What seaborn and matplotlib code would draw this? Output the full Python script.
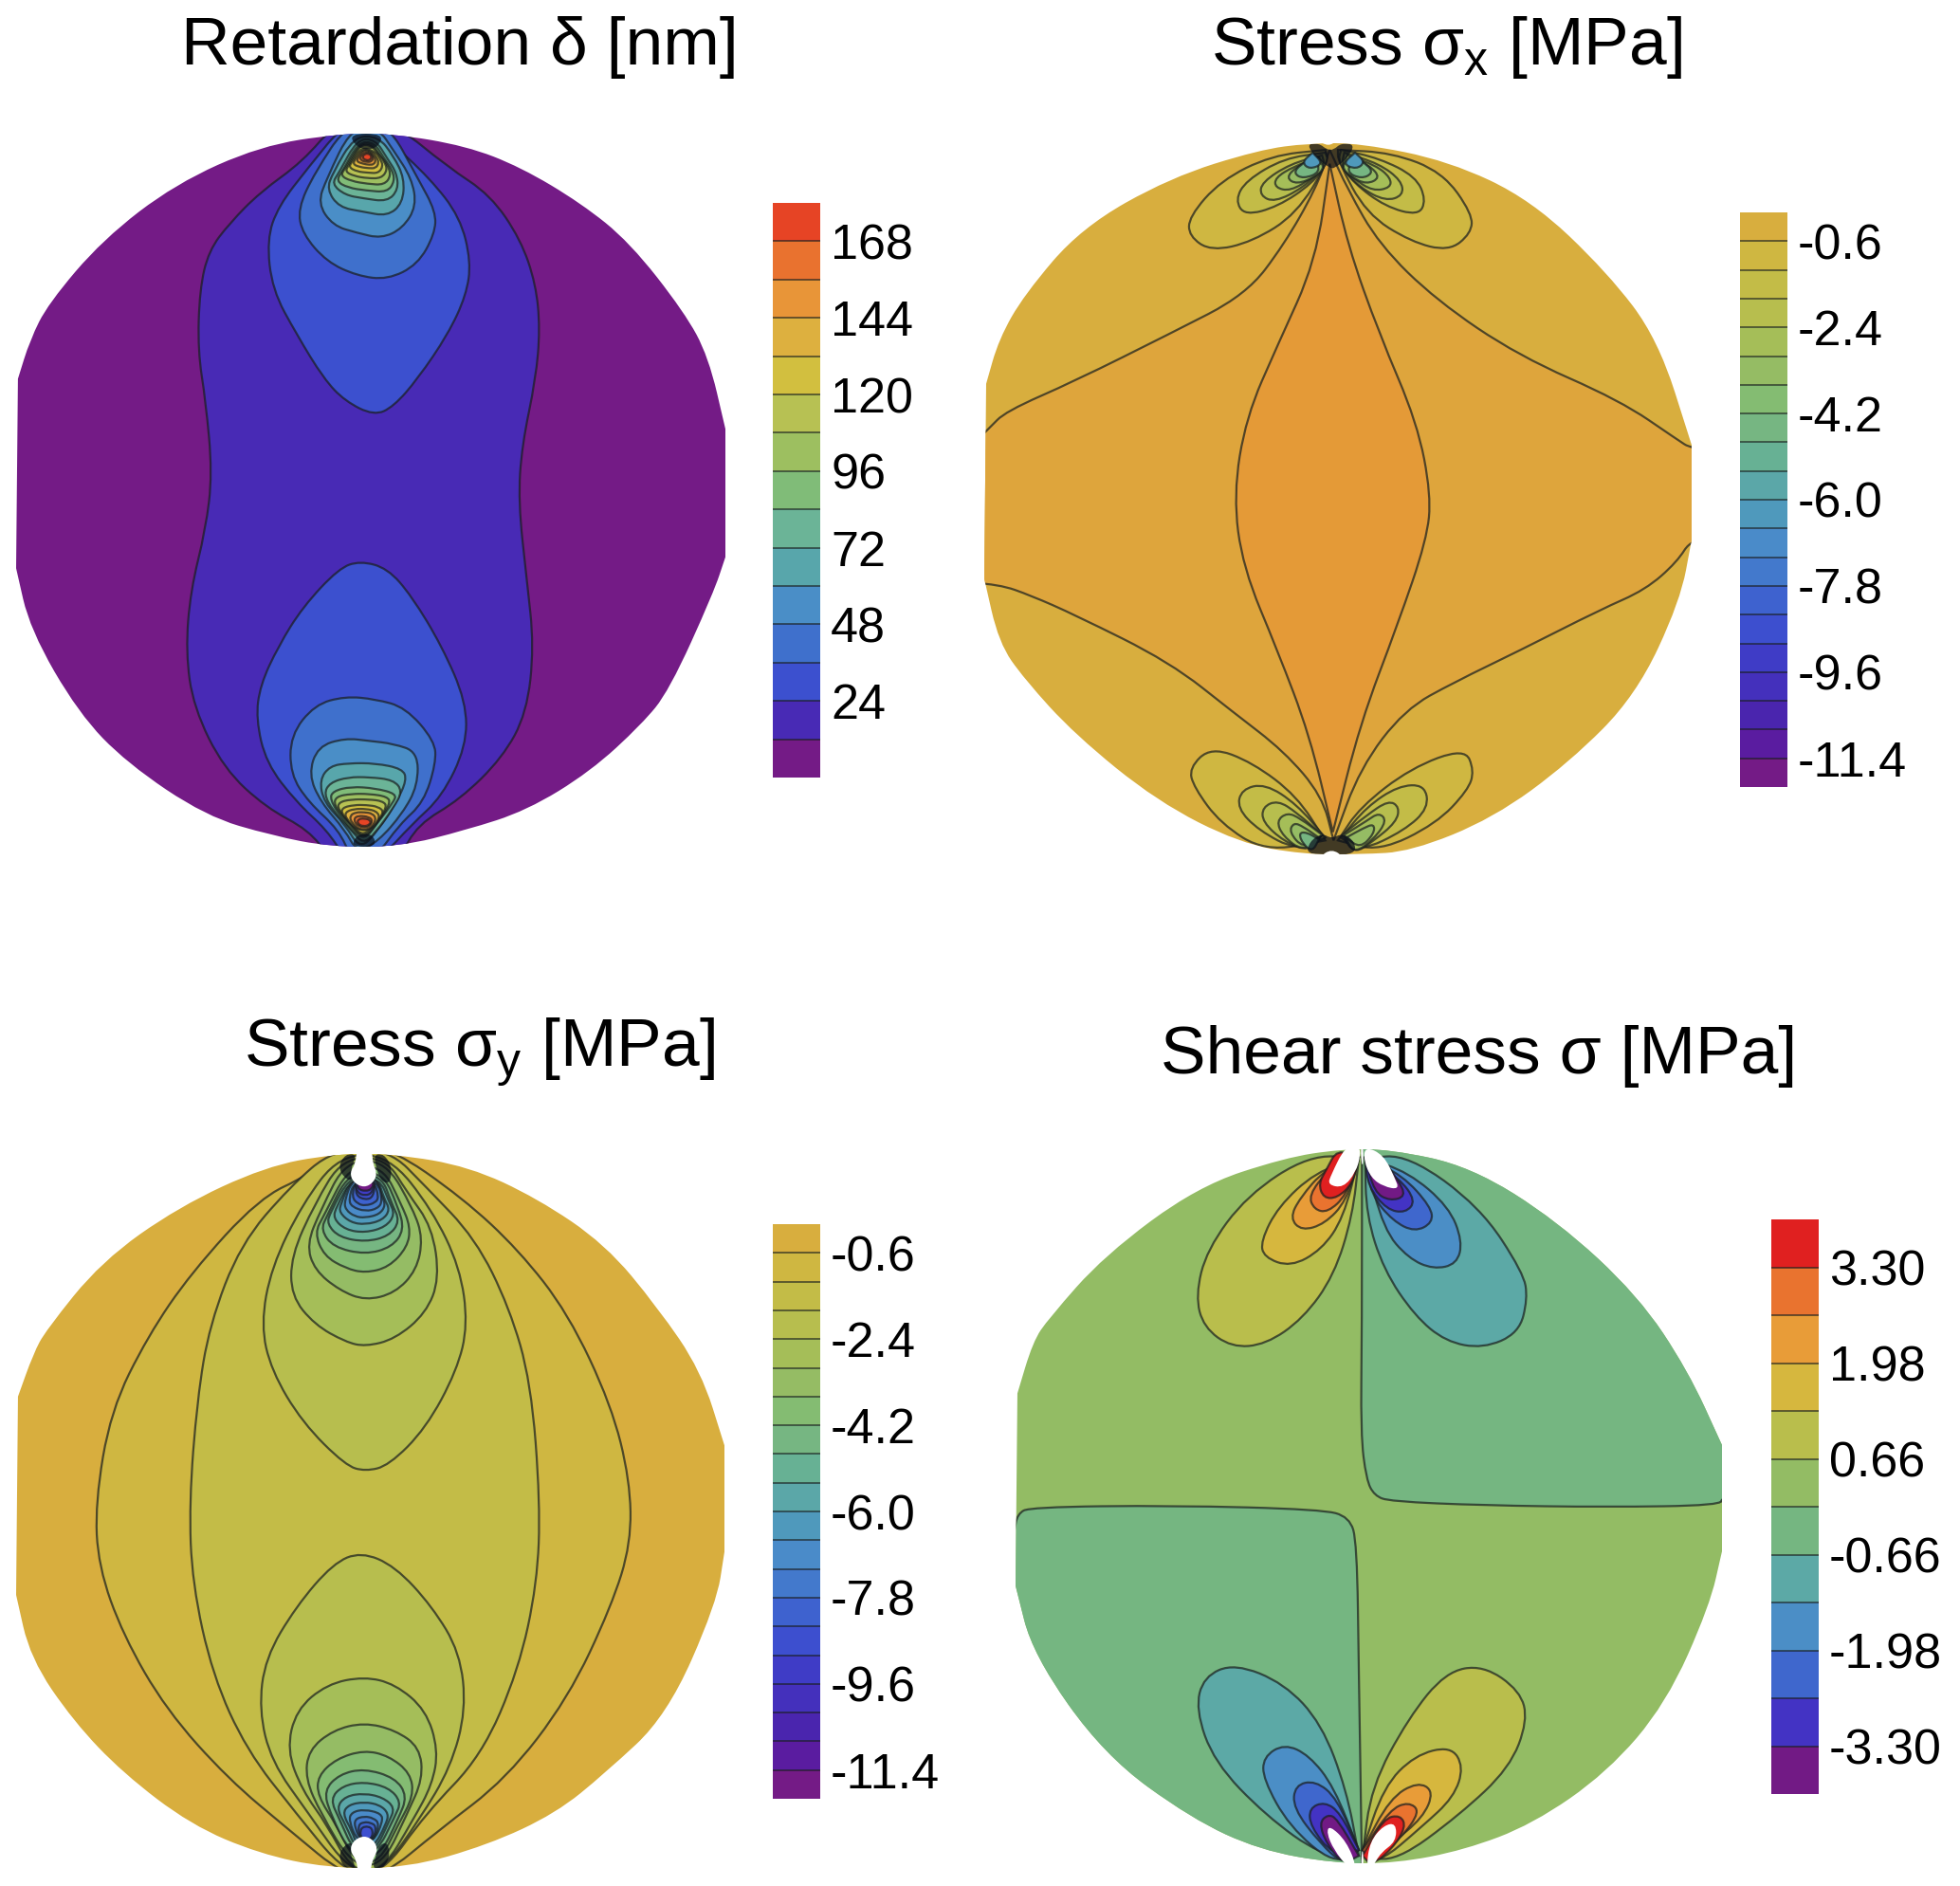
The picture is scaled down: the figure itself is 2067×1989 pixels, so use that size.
import numpy as np
import matplotlib
matplotlib.use("Agg")
import matplotlib.pyplot as plt
import seaborn as sns
from matplotlib.colors import ListedColormap
from matplotlib.patches import PathPatch
from matplotlib.path import Path

# =========================
# COLOUR BAR DATA
# =========================
ret_cells = [174, 162, 150, 138, 126, 114, 102, 90, 78, 66, 54, 42, 30, 18, 6]
ret_tick_rows = [1, 3, 5, 7, 9, 11, 13]
ret_tick_labels = ["168", "144", "120", "96", "72", "48", "24"]
ret_colors = ["#E64425", "#E9722F", "#E89538", "#DDB03F", "#D2BF3F", "#B7C153", "#9DBF60", "#80BC78",
              "#6BB497", "#58A6AB", "#4A8EC7", "#3F70CC", "#3C50CF", "#482AB5", "#741B86"]

stress_cells = [-0.3, -0.9, -1.5, -2.1, -2.7, -3.3, -3.9, -4.5, -5.1, -5.7,
                -6.3, -6.9, -7.5, -8.1, -8.7, -9.3, -9.9, -10.5, -11.1, -11.7]
stress_tick_rows = [1, 4, 7, 10, 13, 16, 19]
stress_tick_labels = ["-0.6", "-2.4", "-4.2", "-6.0", "-7.8", "-9.6", "-11.4"]
stress_colors = ["#D8AE3E", "#CFB741", "#C3BC47", "#B7BE4E", "#A5BE58", "#95BC64", "#84BC72", "#76B682",
                 "#67B194", "#5BA7A8", "#4F99BC", "#4A8BC9", "#4379CC", "#3E62CF", "#3D4FCF", "#3F3CC6",
                 "#4430BC", "#4A25AE", "#5A1CA0", "#741B86"]

shear_cells = [3.63, 2.97, 2.31, 1.65, 0.99, 0.33, -0.33, -0.99, -1.65, -2.31, -2.97, -3.63]
shear_tick_rows = [1, 3, 5, 7, 9, 11]
shear_tick_labels = ["3.30", "1.98", "0.66", "-0.66", "-1.98", "-3.30"]
shear_colors = ["#E02020", "#E9732F", "#E89C38", "#D6B73E", "#B9BE4C", "#93BC64",
                "#75B681", "#5CA9A6", "#4B8EC6", "#3F67CD", "#4333C4", "#721A85"]

sx_inner_colors = ["#DEA53C", "#E49A37"]

# =========================
# DISC OUTLINES
# =========================
ret_disc = [(27,1020),(27,1020),(30,680),(30,680),(50,610),(80,545),(170,430),(290,330),(430,262),(560,240),(650,240),(770,262),
            (860,300),(960,365),(1040,435),(1130,560),(1170,640),(1198,770),(1198,770),(1198,1000),(1198,1000),(1178,1065),(1105,1240),
            (1060,1300),(975,1385),(870,1455),(770,1490),(660,1520),(545,1520),(450,1500),(340,1465),(210,1370),
            (130,1280),(50,1130)]
sx_disc = [(27,1040),(27,1040),(30,690),(30,690),(50,610),(90,530),(180,410),(320,320),(460,270),(540,258),(620,258),(760,290),
           (890,360),(1010,490),(1090,610),(1143,800),(1143,800),(1143,970),(1143,970),(1125,1080),(1055,1250),(950,1370),(830,1470),
           (700,1530),(620,1535),(530,1535),(430,1515),(300,1440),(170,1320),(90,1220),(50,1155)]
sy_disc = [(27,1060),(27,1060),(30,715),(30,715),(55,640),(75,600),(165,480),(290,385),(430,315),(540,293),(640,293),(760,315),
           (870,370),(980,450),(1065,560),(1135,670),(1173,800),(1173,800),(1173,985),(1173,985),(1160,1075),(1080,1270),(980,1370),
           (900,1440),(790,1495),(660,1535),(530,1535),(420,1510),(310,1460),(200,1370),(120,1280),(50,1170)]
sh_disc = [(47,1045),(47,1045),(50,710),(50,710),(75,620),(100,580),(190,470),(340,350),(480,300),(570,285),(650,285),(780,315),
           (920,410),(1050,540),(1130,670),(1185,800),(1185,800),(1185,985),(1185,985),(1165,1080),(1095,1250),(1000,1370),(880,1460),
           (770,1505),(660,1528),(560,1528),(440,1505),(330,1450),(190,1340),(75,1165)]

# =========================
# RETARDATION CONTOURS
# =========================
ret_levels = [13, 12, 12, 11, 11, 10, 10, 9, 9, 8, 8, 7, 7, 6, 6, 5, 5, 4, 4, 3, 3, 2, 2, 1, 1, 0, 0]
ret_contours = [
    [(555,220),(500,290),(430,345),(380,400),(345,450),(330,520),(327,630),(340,720),(351,850),(340,950),(315,1060),
     (307,1170),(320,1270),(370,1380),(440,1450),(510,1490),(545,1540),(660,1540),(690,1480),(760,1435),(830,1360),
     (870,1280),(882,1160),(870,1040),(856,900),(862,800),(885,680),(892,590),(885,510),(860,430),(810,350),(740,300),(650,220)],
    [(570,220),(510,300),(460,370),(441,430),(450,520),(490,600),(535,680),(570,720),(618,746),(650,730),(690,680),
     (740,600),(770,530),(778,470),(760,390),(710,320),(640,250),(630,220)],
    [(595,1007),(560,1020),(500,1090),(460,1160),(430,1230),(423,1290),(440,1370),(490,1440),(540,1490),(570,1540),
     (630,1540),(680,1480),(730,1430),(770,1340),(770,1260),(730,1160),(680,1070),(640,1020)],
    [(575,220),(520,310),(492,375),(500,420),(540,470),(590,495),(640,502),(690,475),(718,420),(720,380),(690,320),(640,220)],
    [(570,1250),(520,1265),(480,1320),(480,1390),(510,1440),(560,1490),(580,1540),(620,1540),(660,1480),(700,1440),
     (720,1370),(718,1330),(670,1270),(620,1255)],
    [(580,230),(540,320),(525,365),(550,405),(590,418),(630,428),(665,410),(688,370),(680,320),(650,270),(625,230)],
    [(570,1325),(525,1340),(510,1390),(530,1440),(570,1490),(590,1530),(625,1510),(665,1460),(690,1410),(690,1350),(650,1335),(610,1330)],
    [(585,245),(550,310),(540,340),(560,372),(600,380),(640,388),(665,365),(668,320),(650,280),(625,245)],
    [(575,1370),(545,1375),(528,1400),(535,1440),(570,1480),(595,1525),(625,1490),(655,1440),(672,1400),(665,1380),(620,1370)],
    [(590,250),(560,310),(548,330),(570,350),(600,356),(640,362),(658,340),(655,310),(640,285),(620,250)],
    [(575,1395),(545,1405),(535,1425),(550,1455),(580,1490),(600,1515),(620,1495),(650,1450),(665,1420),(650,1400),(610,1395)],
    [(592,255),(567,305),(555,325),(575,337),(605,342),(640,345),(652,325),(648,305),(635,285),(618,255)],
    [(580,1412),(550,1420),(545,1435),(565,1470),(600,1512),(625,1475),(650,1440),(655,1425),(620,1415)],
    [(594,258),(572,300),(562,315),(580,325),(607,330),(635,332),(646,315),(640,295),(628,280),(615,258)],
    [(580,1425),(555,1430),(552,1445),(570,1470),(600,1508),(625,1475),(645,1442),(640,1430),(610,1425)],
    [(595,260),(577,295),(570,308),(585,316),(607,320),(630,320),(640,305),(635,290),(624,275),(612,260)],
    [(580,1435),(560,1440),(558,1452),(580,1480),(600,1505),(620,1480),(640,1448),(632,1438),(610,1435)],
    [(596,264),(582,290),(576,300),(590,308),(608,310),(625,311),(633,298),(628,285),(620,272)],
    [(585,1445),(565,1450),(565,1462),(585,1485),(600,1500),(618,1480),(635,1458),(625,1448),(605,1445)],
    [(598,268),(587,285),(583,295),(595,300),(609,302),(621,302),(626,292),(622,282),(615,272)],
    [(585,1452),(570,1458),(572,1470),(590,1490),(612,1490),(628,1468),(622,1456),(605,1452)],
    [(600,270),(592,282),(589,290),(600,294),(610,296),(618,295),(621,287),(616,278),(610,272)],
    [(588,1458),(578,1464),(580,1476),(595,1490),(612,1488),(622,1470),(615,1460),(602,1458)],
    [(602,273),(595,281),(596,288),(606,291),(614,290),(617,283),(612,275)],
    [(590,1464),(584,1472),(592,1484),(608,1486),(616,1474),(610,1466)],
    [(603,276),(598,282),(604,288),(612,287),(614,281),(610,276)],
    [(592,1470),(590,1478),(600,1484),(612,1480),(612,1472),(602,1469)],
]
ret_dark = [[(575,240),(635,240),(622,268),(592,268)], [(580,1520),(622,1520),(616,1497),(590,1497)]]
ret_holes = []

# =========================
# STRESS X CONTOURS
# =========================
sx_levels = [0, 1, 3, 3, 3, 3, 4, 4, 4, 4, 5, 5, 5, 5, 6, 6, 6, 6, 7, 7, 7, 7, 9, 9, 9, 12, 12]
sx_contours = [
    [(-30,840),(35,770),(60,740),(170,685),(320,600),(440,530),(500,440),(550,340),(572,270),(572,270),(600,340),(650,440),
     (740,540),(870,640),(1030,720),(1120,790),(1143,807),(1200,807),(1200,968),(1143,968),(1120,1010),(1070,1060),
     (1000,1095),(870,1170),(770,1225),(690,1275),(620,1380),(578,1510),(578,1510),(560,1430),(500,1350),(420,1280),(320,1190),
     (170,1105),(100,1070),(50,1050),(-30,1045)],
    [(572,295),(550,470),(490,620),(440,750),(420,890),(435,1020),(490,1170),(540,1320),(577,1495),(577,1495),(620,1300),
     (680,1120),(725,970),(732,890),(710,760),(650,600),(600,440)],
    [(565,270),(480,280),(400,325),(350,390),(350,425),(385,452),(450,435),(520,385),(570,290)],
    [(585,270),(670,275),(750,310),(797,385),(795,420),(760,452),(700,435),(630,385),(585,290)],
    [(565,1510),(520,1430),(450,1370),(385,1342),(350,1380),(358,1415),(400,1480),(470,1530)],
    [(585,1510),(620,1450),(700,1380),(785,1344),(800,1385),(790,1420),(740,1480),(650,1530)],
    [(565,275),(500,285),(440,325),(423,360),(438,388),(490,372),(545,330),(570,290)],
    [(590,270),(650,285),(708,318),(724,360),(712,388),(660,372),(610,330),(585,290)],
    [(565,1505),(520,1445),(470,1408),(433,1418),(426,1452),(460,1492),(520,1528)],
    [(590,1505),(630,1450),(680,1412),(722,1410),(728,1452),(690,1492),(620,1530)],
    [(560,280),(510,295),(465,328),(462,352),(485,364),(530,338),(565,300)],
    [(595,275),(650,295),(685,325),(688,352),(660,362),(620,338),(590,300)],
    [(560,1500),(520,1460),(490,1438),(466,1450),(466,1477),(500,1512),(540,1530)],
    [(592,1500),(630,1465),(665,1438),(682,1450),(677,1477),(640,1512),(610,1534)],
    [(555,283),(515,300),(486,320),(486,338),(510,344),(545,320),(565,300)],
    [(600,280),(645,298),(668,320),(668,338),(640,344),(610,322),(590,300)],
    [(560,1500),(525,1470),(505,1460),(488,1475),(498,1502),(530,1530)],
    [(595,1500),(630,1475),(650,1460),(662,1475),(642,1507),(610,1534)],
    [(550,285),(520,300),(503,320),(520,332),(550,318),(565,300)],
    [(605,283),(635,298),(652,320),(630,332),(605,318),(590,300)],
    [(555,1505),(530,1485),(515,1478),(508,1495),(530,1524)],
    [(598,1505),(625,1488),(642,1480),(642,1498),(620,1524)],
    [(548,283),(525,297),(515,312),(530,322),(558,310)],
    [(610,283),(632,297),(640,312),(622,322),(598,310)],
    [(555,1508),(535,1495),(523,1497),(530,1517),(545,1530)],
    [(545,275),(528,292),(540,305),(562,295)],
    [(612,275),(628,292),(614,305),(592,295)],
]
sx_dark = [[(535,260),(555,258),(568,270),(578,270),(590,258),(612,260),(600,285),(580,303),(572,303),(552,285)],
           [(535,1537),(540,1512),(560,1497),(575,1507),(592,1497),(612,1512),(612,1537)]]
sx_holes = [[(552,252),(570,264),(585,252)], [(555,1540),(575,1525),(595,1540)]]

# =========================
# STRESS Y CONTOURS
# =========================
sy_levels = [1, 2, 3, 3, 4, 4, 5, 5, 6, 6, 7, 7, 8, 8, 9, 9, 10, 10, 11, 11, 12, 12, 13, 13, 14, 14, 15, 19]
sy_contours = [
    [(555,280),(500,330),(420,370),(310,500),(240,610),(180,740),(155,900),(160,1010),(200,1130),(270,1260),(370,1380),
     (470,1470),(560,1550),(620,1550),(710,1470),(820,1380),(920,1240),(990,1080),(1022,970),(1020,860),(990,730),
     (920,570),(840,460),(750,370),(630,280)],
    [(540,285),(470,350),(390,450),(340,590),(320,720),(307,900),(312,1040),(345,1200),(400,1330),(480,1440),(560,1545),
     (620,1545),(690,1440),(780,1340),(840,1190),(870,1040),(875,900),(860,690),(825,560),(770,440),(690,350),(630,285)],
    [(550,295),(490,380),(440,490),(423,590),(440,670),(490,760),(560,835),(592,845),(630,835),(690,770),(740,670),
     (758,590),(745,490),(700,390),(630,295)],
    [(585,985),(540,1005),(480,1080),(430,1170),(420,1260),(440,1350),(500,1440),(565,1540),(620,1540),(680,1450),
     (730,1360),(755,1260),(745,1160),(700,1080),(640,1010)],
    [(555,300),(510,380),(472,470),(472,540),(510,590),(560,620),(592,628),(640,615),(690,570),(712,510),(700,420),(660,360),(625,300)],
    [(590,1202),(530,1215),(480,1260),(465,1330),(490,1400),(530,1460),(570,1540),(620,1540),(670,1450),(700,1390),
     (710,1330),(690,1260),(640,1215)],
    [(560,305),(520,390),(497,450),(510,495),(550,530),(592,548),(640,535),(675,495),(685,440),(670,390),(625,305)],
    [(590,1282),(540,1295),(500,1330),(495,1380),(520,1440),(570,1530),(620,1530),(660,1440),(685,1380),(680,1325),(640,1295)],
    [(565,315),(525,400),(510,430),(525,470),(560,492),(592,500),(630,490),(660,455),(665,420),(650,380),(620,315)],
    [(590,1330),(545,1345),(515,1375),(515,1410),(545,1460),(575,1525),(615,1525),(645,1460),(670,1410),(665,1370),(630,1340)],
    [(565,325),(530,400),(520,425),(540,455),(592,468),(635,455),(655,425),(645,385),(620,325)],
    [(590,1362),(550,1372),(525,1400),(535,1440),(570,1515),(615,1515),(645,1450),(660,1410),(640,1378)],
    [(568,330),(535,395),(530,415),(550,438),(592,446),(630,436),(648,410),(635,380),(618,330)],
    [(590,1385),(555,1392),(535,1415),(550,1450),(575,1510),(610,1510),(640,1445),(650,1420),(630,1395)],
    [(570,335),(545,385),(540,405),(560,425),(592,430),(625,420),(640,398),(630,375),(615,335)],
    [(590,1405),(560,1410),(545,1430),(560,1460),(578,1505),(608,1505),(630,1455),(640,1430),(620,1412)],
    [(570,335),(552,380),(550,395),(568,412),(592,416),(620,408),(632,390),(622,370),(612,335)],
    [(590,1420),(565,1425),(555,1440),(570,1470),(580,1500),(605,1500),(625,1460),(630,1440),(615,1425)],
    [(572,335),(558,375),(560,390),(575,402),(592,404),(615,398),(625,382),(618,365),(610,335)],
    [(590,1433),(570,1438),(565,1452),(580,1490),(605,1490),(620,1455),(618,1440)],
    [(574,340),(565,372),(570,385),(592,393),(612,388),(620,375),(612,340)],
    [(590,1445),(575,1450),(575,1465),(585,1488),(605,1488),(615,1458),(605,1448)],
    [(576,340),(570,368),(580,380),(592,383),(608,378),(614,368),(606,340)],
    [(590,1455),(580,1460),(583,1485),(605,1485),(610,1462),(600,1456)],
    [(578,340),(576,365),(592,373),(605,368),(608,340)],
    [(590,1462),(583,1470),(586,1485),(603,1485),(604,1465)],
    [(575,335),(578,360),(592,366),(604,360),(608,335)],
    [(578,340),(580,354),(592,358),(603,354),(606,340)],
]
sy_dark = [[(560,293),(578,293),(568,320),(572,340),(558,335),(548,315)],
           [(606,293),(622,293),(635,315),(632,345),(618,340),(610,320)],
           [(560,1537),(578,1537),(567,1510),(572,1490),(558,1495),(548,1515)],
           [(603,1537),(620,1537),(632,1515),(628,1490),(615,1495),(610,1510)]]
sy_holes = [[(578,285),(576,310),(567,325),(572,342),(590,352),(606,342),(611,325),(604,310),(603,285)],
            [(590,1478),(572,1488),(567,1505),(578,1522),(580,1545),(600,1545),(603,1522),(612,1505),(607,1488)]]

# =========================
# SHEAR CONTOURS
# =========================
sh_levels = [6, 6, 4, 3, 2, 1, 0, 7, 8, 9, 10, 11, 7, 8, 9, 10, 11, 4, 3, 2, 1, 0]
sh_contours = [
    [(605,230),(605,600),(603,780),(612,860),(625,888),(650,898),(800,905),(1000,908),(1183,905),(1185,890),(1250,890),(1250,230)],
    [(45,950),(50,920),(70,908),(300,905),(540,912),(585,925),(597,970),(600,1200),(605,1528),(605,1600),(-50,1600),(-50,950)],
    [(600,300),(520,295),(420,365),(355,460),(337,540),(350,595),(395,630),(450,625),(510,580),(560,505),(590,400)],
    [(600,300),(530,325),(470,385),(442,445),(447,473),(490,490),(540,460),(575,405)],
    [(600,300),(545,320),(505,370),(489,405),(508,427),(545,415),(580,375)],
    [(600,300),(550,322),(519,365),(528,390),(550,395),(580,365)],
    [(600,300),(565,285),(548,320),(535,345),(543,370),(565,370),(590,345)],
    [(610,300),(680,295),(795,385),(865,500),(872,545),(858,605),(800,632),(740,620),(690,575),(640,495),(612,400)],
    [(610,300),(680,325),(745,385),(767,445),(758,485),(720,494),(680,475),(640,425)],
    [(610,300),(670,330),(716,385),(719,413),(690,429),(655,410),(620,365)],
    [(610,300),(665,335),(692,375),(675,396),(645,390),(615,350)],
    [(610,300),(630,290),(663,338),(676,367),(650,375),(625,360)],
    [(600,1515),(580,1400),(540,1285),(480,1215),(400,1180),(350,1203),(337,1260),(367,1352),(450,1445),(540,1515)],
    [(600,1505),(560,1395),(520,1340),(480,1320),(446,1343),(446,1382),(488,1464),(560,1530)],
    [(600,1505),(565,1415),(530,1384),(497,1392),(494,1432),(538,1494),(575,1530)],
    [(600,1505),(570,1440),(545,1421),(520,1432),(522,1464),(558,1514)],
    [(600,1515),(565,1450),(550,1443),(536,1458),(548,1494),(575,1530)],
    [(606,1515),(620,1395),(680,1275),(740,1195),(800,1183),(860,1228),(872,1280),(843,1362),(762,1444),(660,1525)],
    [(606,1505),(640,1395),(690,1340),(748,1324),(769,1360),(753,1413),(702,1464),(630,1530)],
    [(606,1505),(650,1415),(695,1386),(721,1403),(703,1449),(652,1494),(620,1530)],
    [(606,1505),(650,1435),(680,1421),(699,1438),(668,1484),(620,1530)],
    [(606,1515),(640,1450),(667,1444),(676,1465),(653,1504),(620,1532)],
]
sh_dark = []
sh_holes = [[(578,280),(555,330),(550,347),(575,352),(595,325),(603,295),(600,280)],
            [(610,280),(640,295),(658,335),(665,355),(640,350),(620,335),(608,305)],
            [(602,280),(608,280),(606,325)],
            [(553,1462),(580,1490),(597,1535),(582,1535),(560,1505),(548,1475)],
            [(618,1490),(640,1462),(660,1458),(660,1490),(635,1510),(622,1535),(612,1535)],
            [(603,1535),(608,1535),(606,1495)]]

titles = ["Retardation δ [nm]", r"Stress σ$_{\mathregular{x}}$ [MPa]",
          r"Stress σ$_{\mathregular{y}}$ [MPa]", "Shear stress σ [MPa]"]

# =========================
# FIGURE
# =========================
W, H = 2067, 1989
sns.set_theme(style="white")
plt.rcParams["font.family"] = ["Liberation Sans", "DejaVu Sans"]
plt.rcParams["mathtext.fontset"] = "custom"
plt.rcParams["mathtext.rm"] = "Liberation Sans"

fig = plt.figure(figsize=(W / 100, H / 100), dpi=100, facecolor="white")

LINE = (0.1, 0.12, 0.12, 0.72)


def box_axes(x0, y0, x1, y1):
    ax = fig.add_axes([x0 / W, 1 - y1 / H, (x1 - x0) / W, (y1 - y0) / H])
    return ax


def smooth_path(pts, sharp_first=False):
    # quadratic curve through the mid points, the read points are the controls
    pts = np.array(pts, dtype=float)
    if sharp_first:
        pts = np.vstack([pts[:1], pts])
    mids = (pts + np.roll(pts, -1, axis=0)) / 2
    verts = [mids[-1]]
    codes = [Path.MOVETO]
    for p, m in zip(pts, mids):
        verts += [p, m]
        codes += [Path.CURVE3, Path.CURVE3]
    return Path(verts, codes)


def draw_disc(box, view, disc, base, colors, levels, contours, dark, holes, sharp=False):
    ax = box_axes(*box)
    ax.set_xlim(view[0], view[1])
    ax.set_ylim(view[3], view[2])
    ax.axis("off")
    disc_patch = PathPatch(smooth_path(disc), fc=base, ec="none", zorder=1)
    ax.add_patch(disc_patch)
    z = 2
    for level, pts in zip(levels, contours):
        patch = PathPatch(smooth_path(pts, sharp), fc=colors[level], ec=LINE, lw=1.6, zorder=z)
        ax.add_patch(patch)
        patch.set_clip_path(disc_patch)
        z += 1
    for pts in dark:
        patch = PathPatch(smooth_path(pts), fc=(0.03, 0.05, 0.1, 0.72), ec="none", zorder=z)
        ax.add_patch(patch)
        patch.set_clip_path(disc_patch)
    for pts in holes:
        patch = PathPatch(smooth_path(pts), fc="white", ec="none", zorder=z + 1)
        ax.add_patch(patch)
    return ax


def draw_bar(box, cells, colors, tick_rows, tick_labels):
    ax = box_axes(*box)
    cell_table = np.array(cells).reshape(-1, 1)
    sns.heatmap(cell_table, ax=ax, cmap=ListedColormap(colors[::-1]), cbar=False, xticklabels=False)
    ax.hlines(range(1, len(cells)), 0, 1, color=LINE, lw=1.2)
    ax.yaxis.tick_right()
    ax.set_yticks(tick_rows)
    ax.set_yticklabels(tick_labels, rotation=0, fontsize=37.5)
    ax.tick_params(axis="y", length=0, pad=8, colors="black")


# top left
draw_disc((17, 141, 765, 893), (27, 1198, 240, 1520), ret_disc, ret_colors[-1], ret_colors,
          ret_levels, ret_contours, ret_dark, ret_holes)
draw_bar((815, 214, 865, 820), ret_cells, ret_colors, ret_tick_rows, ret_tick_labels)

# top right
sx_colors = sx_inner_colors + stress_colors
draw_disc((1038, 151, 1784, 901), (27, 1143, 258, 1535), sx_disc, stress_colors[0], sx_colors,
          sx_levels, sx_contours, sx_dark, sx_holes, sharp=True)
draw_bar((1835, 224, 1885, 830), stress_cells, stress_colors, stress_tick_rows, stress_tick_labels)

# bottom left
draw_disc((17, 1217, 764, 1970), (27, 1173, 293, 1535), sy_disc, stress_colors[0], stress_colors,
          sy_levels, sy_contours, sy_dark, sy_holes)
draw_bar((815, 1291, 865, 1897), stress_cells, stress_colors, stress_tick_rows, stress_tick_labels)

# bottom right
draw_disc((1071, 1212, 1816, 1965), (47, 1185, 285, 1528), sh_disc, shear_colors[5], shear_colors,
          sh_levels, sh_contours, sh_dark, sh_holes, sharp=True)
draw_bar((1868, 1286, 1918, 1892), shear_cells, shear_colors, shear_tick_rows, shear_tick_labels)

for title, (tx, ty) in zip(titles, [(485, 50), (1525, 50), (505, 1110), (1560, 1114)]):
    fig.text(tx / W, 1 - ty / H, title, fontsize=51.4, ha="center", va="center", color="black")

fig.savefig("out.png", dpi=100, facecolor="white")
print("saved out.png")
